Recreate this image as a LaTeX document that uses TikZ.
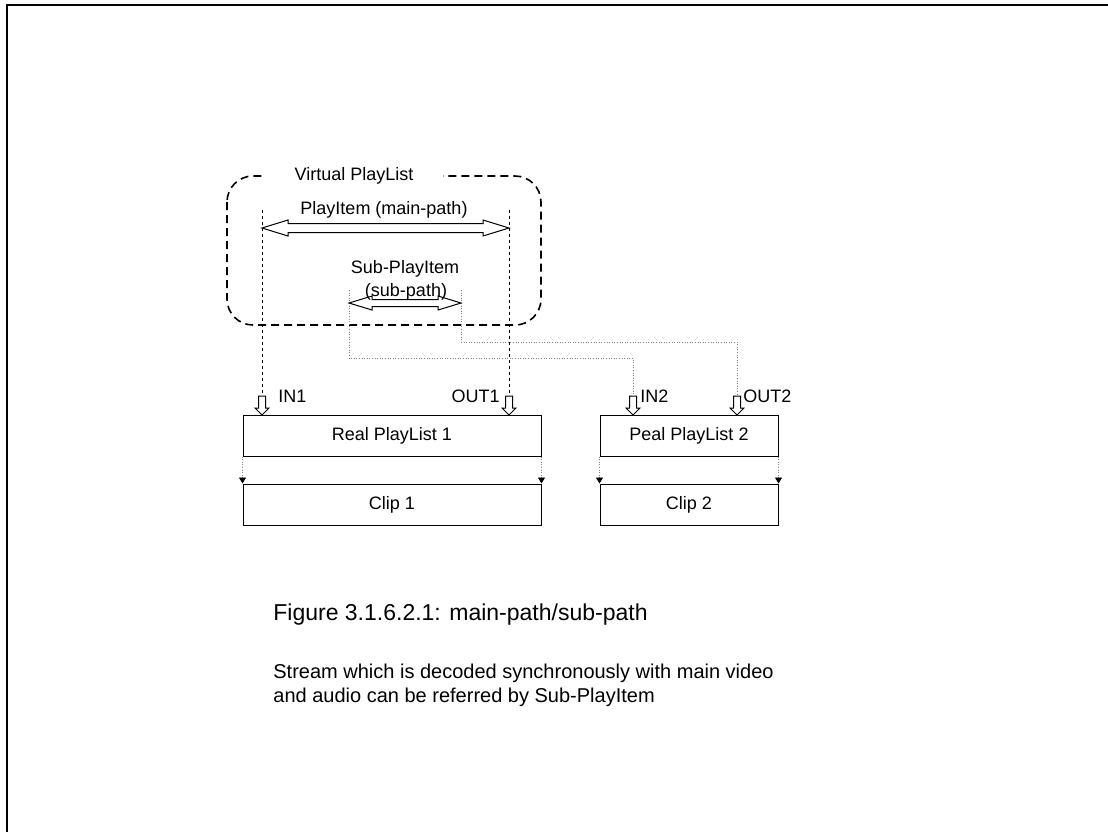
\documentclass[tikz,border=0pt]{standalone}
\usepackage{fontspec}
\setmainfont{Liberation Sans}
\usetikzlibrary{arrows.meta}
\tikzset{
  fig/.style={draw=black, line width=0.5pt},
  box/.style={draw=black, line width=0.5pt, minimum width=149pt, minimum height=20.5pt, inner sep=0pt, font=\fontsize{9}{11}\selectfont},
  lbl/.style={font=\fontsize{9}{11}\selectfont, inner sep=0pt},
  vbox/.style={line width=0.8pt, dash pattern=on 4pt off 2.5pt, rounded corners=13pt},
  mainline/.style={line width=0.4pt, dash pattern=on 1.5pt off 1.5pt},
  subline/.style={line width=0.4pt, gray, dash pattern=on 0.5pt off 0.8pt},
  link/.style={line width=0.4pt, gray, dash pattern=on 0.5pt off 0.8pt, -{Triangle[length=3pt,width=3.5pt,black]}},
  downarr/.pic={\draw[fig, fill=white] (-3.5,-19)--(3.5,-19)--(3.5,-7)--(7,-7)--(0,0)--(-7,-7)--(-3.5,-7)--cycle;}
}
\begin{document}
\begin{tikzpicture}[x=0.5pt, y=-0.5pt]
\useasboundingbox (0,0) rectangle (1108,832);
% frame
\draw[line width=1pt] (7,832) -- (7,5) -- (1108,5);

% virtual playlist
\draw[vbox] (227,176) rectangle (541,325);
\node[lbl, fill=white, inner xsep=15pt, inner ysep=2pt, anchor=base] (vpl) at (354,180) {Virtual PlayList};

% boxes
\node[box] (rp1) at (392,435.5) {Real PlayList 1};
\node[box] (clip1) at (392,504.5) {Clip 1};
\node[box, minimum width=89pt] (rp2) at (689,435.5) {Peal PlayList 2};
\node[box, minimum width=89pt] (clip2) at (689,504.5) {Clip 2};

\draw[link] (rp1.south west) -- (clip1.north west);
\draw[link] (rp1.south east) -- (clip1.north east);
\draw[link] (rp2.south west) -- (clip2.north west);
\draw[link] (rp2.south east) -- (clip2.north east);

% in/out points
\coordinate (in1) at (262,415);
\coordinate (out1) at (509,415);
\coordinate (in2) at (633,415);
\coordinate (out2) at (737,415);
\coordinate (in1top) at (262,396);
\coordinate (out1top) at (509,396);
\coordinate (in2top) at (633,396);
\coordinate (out2top) at (737,396);
\foreach \p in {in1,out1,in2,out2} \pic at (\p) {downarr};

\node[lbl, anchor=base west] (lin1) at (278,402) {IN1};
\node[lbl, anchor=base east] (lout1) at (500,402) {OUT1};
\node[lbl, anchor=base west] (lin2) at (640,402) {IN2};
\node[lbl, anchor=base west] (lout2) at (743,402) {OUT2};

% main-path
\coordinate (ms) at (262,210);
\coordinate (me) at (509,210);
\draw[mainline] (ms) -- (in1top);
\draw[mainline] (me) -- (out1top);
\draw[fig, fill=white] (262,228) -- (288,220) -- (288,223.5) -- (483,223.5) -- (483,220) -- (509,228)
  -- (483,236) -- (483,232.5) -- (288,232.5) -- (288,236) -- cycle;
\node[lbl, anchor=base] (lmain) at (384,214) {PlayItem (main-path)};

% sub-path
\coordinate (ss) at (349,290);
\coordinate (se) at (461,290);
\draw[subline] (ss) |- (633,358) -- (in2top);
\draw[subline] (se) |- (737,342) -- (out2top);
\draw[fig, fill=white] (349,303) -- (372,296) -- (372,299.5) -- (438,299.5) -- (438,296) -- (461,303)
  -- (438,310) -- (438,306.5) -- (372,306.5) -- (372,310) -- cycle;
\node[lbl, anchor=base] (lsub) at (405,273) {Sub-PlayItem};
\node[lbl, anchor=base] (lsubp) at (406,296) {(sub-path)};

% caption
\node[anchor=base west, inner sep=0pt, font=\fontsize{11.5}{14}\selectfont] (cap) at (273,620) {Figure 3.1.6.2.1: main-path/sub-path};
\node[anchor=base west, inner sep=0pt, font=\fontsize{10}{12}\selectfont] (txt1) at (273,678) {Stream which is decoded synchronously with main video};
\node[anchor=base west, inner sep=0pt, font=\fontsize{10}{12}\selectfont] (txt2) at (273,702) {and audio can be referred by Sub-PlayItem};
\end{tikzpicture}
\end{document}
